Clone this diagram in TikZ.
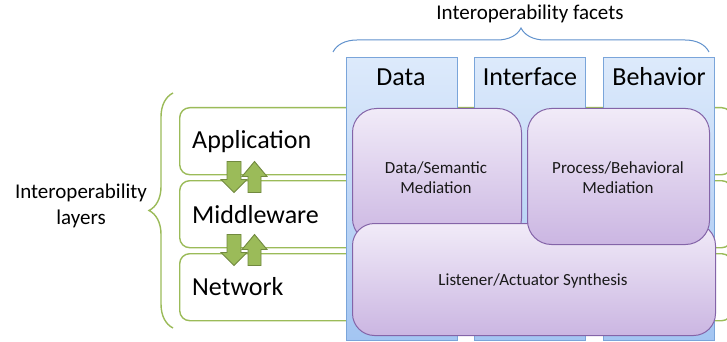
\documentclass[tikz,border=0pt]{standalone}
\usepackage{fontspec}
\setmainfont{Carlito}
\usetikzlibrary{decorations.pathreplacing}
\definecolor{lgreen}{HTML}{9BBB59}
\definecolor{dgreen}{HTML}{71893F}
\definecolor{colTop}{HTML}{DDEAFB}
\definecolor{colBot}{HTML}{A3C5F2}
\definecolor{colLine}{HTML}{7AA5DA}
\definecolor{purTop}{HTML}{F1EBF8}
\definecolor{purBot}{HTML}{CBB6E2}
\definecolor{purLine}{HTML}{8464A8}
\definecolor{braceBlue}{HTML}{5F91CC}
\begin{document}
\begin{tikzpicture}[x=1pt,y=-1pt,
  layerbox/.style={draw=lgreen, line width=1.4pt, fill=white, rounded corners=10pt,
    minimum width=552pt, minimum height=67pt, anchor=north west, inner sep=0pt},
  colbox/.style={draw=colLine, line width=0.9pt, top color=colTop, bottom color=colBot,
    minimum width=111pt, minimum height=283pt, anchor=north west, inner sep=0pt},
  purbox/.style={draw=purLine, line width=1pt, top color=purTop, bottom color=purBot,
    anchor=north west, inner sep=0pt},
  biglabel/.style={font=\fontsize{26}{30}\selectfont, inner sep=0pt},
  midlabel/.style={font=\fontsize{21}{26}\selectfont, align=center, inner sep=0pt},
  smalllabel/.style={font=\fontsize{17}{20}\selectfont, align=center, inner sep=0pt, text=black!90},
  blockarr/.style={draw=dgreen, line width=0.9pt, fill=lgreen, line join=miter},
  bracestyle/.style={decorate, decoration={brace, amplitude=24pt}, line width=1pt},
  downarr/.pic={\draw[blockarr] (-7,-15.5) -- (7,-15.5) -- (7,2.5) -- (13,2.5) -- (0,15.5) -- (-13,2.5) -- (-7,2.5) -- cycle;},
  uparr/.pic={\draw[blockarr] (-6.5,15.5) -- (6.5,15.5) -- (6.5,-0.5) -- (12.5,-0.5) -- (0,-15.5) -- (-12.5,-0.5) -- (-6.5,-0.5) -- cycle;}
]
\useasboundingbox (0,0) rectangle (727,342);
\clip (0,0) rectangle (727,342);

% layer boxes
\node[layerbox] (app) at (179,107) {};
\node[layerbox] (mid) at (179,180) {};
\node[layerbox] (net) at (179,253) {};

% facet columns
\node[colbox] (data) at (346,57) {};
\node[colbox] (intf) at (474,57) {};
\node[colbox] (behv) at (603,57) {};

% purple boxes
\node[purbox, rounded corners=24pt, minimum width=169pt, minimum height=134pt] (dsm) at (352,108) {};
\node[purbox, rounded corners=22pt, minimum width=363pt, minimum height=112pt] (las) at (352,223) {};
\node[purbox, rounded corners=24pt, minimum width=182pt, minimum height=136pt] (pbm) at (527,108) {};

% labels
\node[biglabel, anchor=base west] (appL) at (192,148) {Application};
\node[biglabel, anchor=base west] (midL) at (192,223) {Middleware};
\node[biglabel, anchor=base west] (netL) at (192,295) {Network};

\node[biglabel, anchor=base] (dataL) at (401,85) {Data};
\node[biglabel, anchor=base] (intfL) at (530,85) {Interface};
\node[biglabel, anchor=base] (behvL) at (659,85) {Behavior};

\node[smalllabel, anchor=base] (dsmL) at (436,193) {Data/Semantic\\Mediation};
\node[smalllabel, anchor=base] (pbmL) at (618,193) {Process/Behavioral\\Mediation};
\node[smalllabel, anchor=base] (lasL) at (533,285) {Listener/Actuator Synthesis};

\node[midlabel, anchor=base] (facL) at (530,20) {Interoperability facets};
\node[midlabel, anchor=base] (layL) at (81,224) {Interoperability\\layers};

% block arrows
\pic at (234,177) {downarr};
\pic at (254.5,177) {uparr};
\pic at (234,250) {downarr};
\pic at (254.5,250) {uparr};

% braces
\coordinate (tbL) at (333,52);
\coordinate (tbR) at (709,52);
\draw[bracestyle, draw=braceBlue] (tbL) -- (tbR);
\coordinate (lbB) at (173,328);
\coordinate (lbT) at (173,93);
\draw[bracestyle, draw=lgreen, line width=1.4pt] (lbB) -- (lbT);
\end{tikzpicture}
\end{document}
